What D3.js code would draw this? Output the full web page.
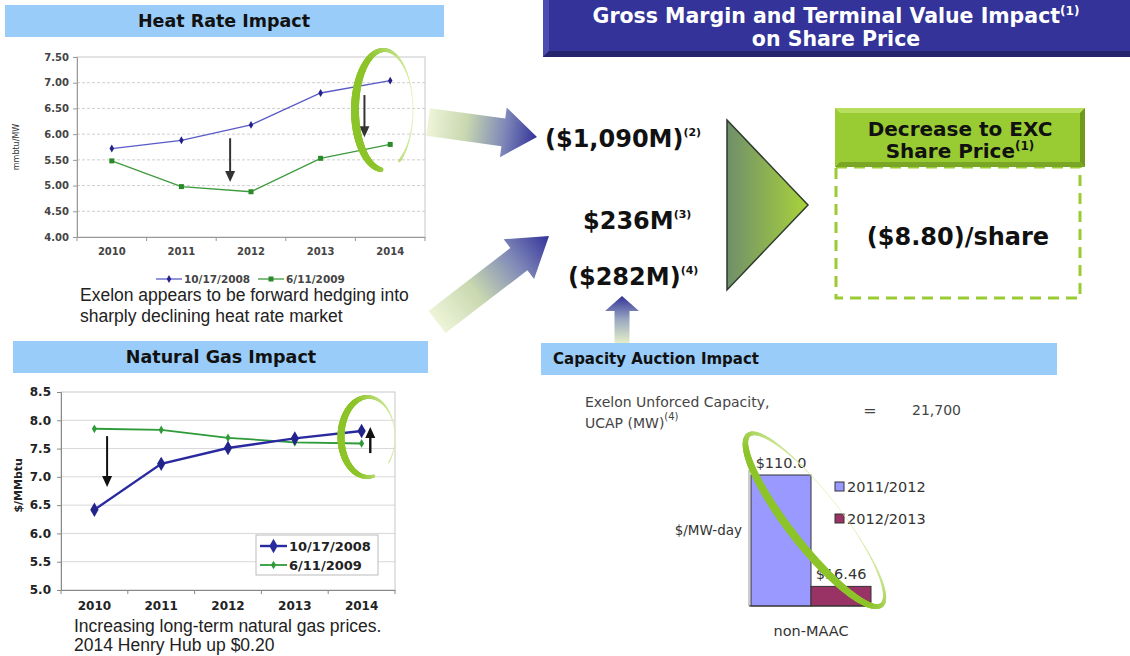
<!DOCTYPE html>
<html>
<head>
<meta charset="utf-8">
<script src="https://cdn.jsdelivr.net/npm/d3@7"></script>
<style>
body { margin: 0; background: #fff; }
text { font-family: "DejaVu Sans", Verdana, sans-serif; }
text.caption { font-family: "Liberation Sans", Arial, sans-serif; }
</style>
</head>
<body>
<svg id="chart" width="1130" height="656"></svg>
<script>
// data
const years = ["2010", "2011", "2012", "2013", "2014"];
const seriesDates = ["10/17/2008", "6/11/2009"];
const heatRate2008 = [5.72, 5.88, 6.18, 6.80, 7.04];
const heatRate2009 = [5.48, 4.98, 4.88, 5.53, 5.80];
const heatRateTicks = [4.0, 4.5, 5.0, 5.5, 6.0, 6.5, 7.0, 7.5];
const gas2008 = [6.42, 7.23, 7.51, 7.68, 7.81];
const gas2009 = [7.85, 7.83, 7.69, 7.61, 7.59];
const gasTicks = [5.0, 5.5, 6.0, 6.5, 7.0, 7.5, 8.0, 8.5];
const auctionYears = ["2011/2012", "2012/2013"];
const auctionPrices = [110.0, 16.46];
const auctionLabels = ["$110.0", "$16.46"];
const impacts = [["($1,090M)", "(2)"], ["$236M", "(3)"], ["($282M)", "(4)"]];
const sharePriceImpact = "($8.80)/share";
const ucap = "21,700";

const svg = d3.select("#chart");
const defs = svg.append("defs");

const BLUE_HDR = "#99ccf8";

// ---------- helpers ----------
function blackArrow(g, x, y1, y2, color, w) {
  const dir = y2 > y1 ? 1 : -1;
  g.append("line").attr("x1", x).attr("x2", x).attr("y1", y1).attr("y2", y2 - dir * 9)
    .attr("stroke", color).attr("stroke-width", w);
  g.append("path")
    .attr("d", `M${x - 5},${y2 - dir * 11}L${x + 5},${y2 - dir * 11}L${x},${y2}Z`)
    .attr("fill", color);
}

function brush(g, cx, cy, rx, ry, rot, t0, t1, thickAt, wMax, wMin) {
  const r = rot * Math.PI / 180;
  const pts = d3.range(t0, t1 + 1, 2).map(t => {
    const a = t * Math.PI / 180;
    const lx = rx * Math.cos(a), ly = ry * Math.sin(a);
    const k = (1 + Math.cos((t - thickAt) * Math.PI / 180)) / 2;
    return [cx + lx * Math.cos(r) - ly * Math.sin(r), cy + lx * Math.sin(r) + ly * Math.cos(r), k];
  });
  const col = d3.interpolateRgb("#dcefb0", "#8cc429");
  for (let i = 0; i < pts.length - 1; i++) {
    const k = pts[i][2];
    g.append("line")
      .attr("x1", pts[i][0]).attr("y1", pts[i][1])
      .attr("x2", pts[i + 1][0]).attr("y2", pts[i + 1][1])
      .attr("stroke", col(Math.min(1, k * 1.4)))
      .attr("stroke-width", wMin + (wMax - wMin) * k)
      .attr("stroke-linecap", "round");
  }
}

function fatArrow(id, x1, y1, x2, y2, sw, hw, hl, stops) {
  const L = Math.hypot(x2 - x1, y2 - y1);
  const ang = Math.atan2(y2 - y1, x2 - x1) * 180 / Math.PI;
  const grad = defs.append("linearGradient").attr("id", id)
    .attr("gradientUnits", "userSpaceOnUse").attr("x1", 0).attr("y1", 0).attr("x2", L).attr("y2", 0);
  stops.forEach(s => grad.append("stop").attr("offset", s[0]).attr("stop-color", s[1]));
  svg.append("path")
    .attr("transform", `translate(${x1},${y1}) rotate(${ang})`)
    .attr("d", `M0,${-sw / 2}L${L - hl},${-sw / 2}L${L - hl},${-hw / 2}L${L},0L${L - hl},${hw / 2}L${L - hl},${sw / 2}L0,${sw / 2}Z`)
    .attr("fill", `url(#${id})`);
}

function headerBar(x, y, w, h, label, tx, anchor, size) {
  svg.append("rect").attr("x", x).attr("y", y).attr("width", w).attr("height", h).attr("fill", BLUE_HDR);
  svg.append("text").attr("x", tx).attr("y", y + h / 2 + size * 0.36)
    .attr("text-anchor", anchor).attr("font-size", size).attr("font-weight", "bold")
    .attr("fill", "#111").text(label);
}

function caption(x, y, str) {
  svg.append("text").attr("class", "caption").attr("x", x).attr("y", y)
    .attr("font-size", 17.5).attr("fill", "#222").text(str);
}

// ---------- Heat Rate Impact ----------
headerBar(5, 5, 439, 32, "Heat Rate Impact", 224, "middle", 17.5);

const xHR = d3.scaleBand().domain(years).range([77, 425]);
const yHR = d3.scaleLinear().domain([4, 7.5]).range([237, 57]);
const hr = svg.append("g");

hr.selectAll(".grid").data(heatRateTicks.slice(1, -1)).join("line")
  .attr("x1", 77).attr("x2", 425).attr("y1", d => yHR(d)).attr("y2", d => yHR(d))
  .attr("stroke", "#cfcfcf").attr("stroke-dasharray", "3,2");
hr.append("rect").attr("x", 77).attr("y", yHR(7.5)).attr("width", 348).attr("height", yHR(4) - yHR(7.5))
  .attr("fill", "none").attr("stroke", "#c8c8c8");

const hrY = hr.append("g").attr("transform", "translate(77,0)")
  .call(d3.axisLeft(yHR).tickValues(heatRateTicks).tickFormat(d3.format(".2f")).tickSize(4).tickPadding(4));
hrY.selectAll("text").attr("font-size", 10).attr("font-weight", "bold").attr("fill", "#444");
hrY.selectAll("line,path").attr("stroke", "#999");

const hrX = hr.append("g").attr("transform", "translate(0,237)")
  .call(d3.axisBottom(xHR).tickSize(0).tickPadding(11));
hrX.selectAll("text").attr("font-size", 10).attr("font-weight", "bold").attr("fill", "#444");
hrX.select("path").attr("stroke", "#999");
hr.selectAll(".xt").data(d3.range(years.length + 1)).join("line")
  .attr("x1", i => xHR.range()[0] + i * xHR.step()).attr("x2", i => xHR.range()[0] + i * xHR.step())
  .attr("y1", 237).attr("y2", 241).attr("stroke", "#999");

hr.append("text").attr("transform", `translate(19,${yHR(5.75)}) rotate(-90)`)
  .attr("text-anchor", "middle").attr("font-size", 8).attr("fill", "#333").text("mmbtu/MW");

const hrLine = d3.line().x((d, i) => xHR(years[i]) + xHR.bandwidth() / 2).y(d => yHR(d));
hr.append("path").datum(heatRate2008).attr("d", hrLine).attr("fill", "none").attr("stroke", "#5a5ac8").attr("stroke-width", 1.3);
hr.append("path").datum(heatRate2009).attr("d", hrLine).attr("fill", "none").attr("stroke", "#3d9a3d").attr("stroke-width", 1.3);
hr.selectAll(".m1").data(heatRate2008).join("path")
  .attr("transform", (d, i) => `translate(${xHR(years[i]) + xHR.bandwidth() / 2},${yHR(d)})`)
  .attr("d", d3.symbol(d3.symbolDiamond, 18)).attr("fill", "#22228a");
hr.selectAll(".m2").data(heatRate2009).join("rect")
  .attr("x", (d, i) => xHR(years[i]) + xHR.bandwidth() / 2 - 2.5).attr("y", d => yHR(d) - 2.5)
  .attr("width", 5).attr("height", 5).attr("fill", "#2a8a2a");

blackArrow(hr, xHR.range()[0] + xHR.step() * 2.2, yHR(5.92), yHR(5.07), "#333", 2);
blackArrow(hr, xHR.range()[0] + xHR.step() * 4.13, yHR(6.76), yHR(5.94), "#333", 2);
brush(hr, 384, 110, 29, 60, 0, 96, 418, 175, 8, 0.6);

// legend
const hrLeg = hr.append("g");
[[156, "#5a5ac8", "diamond"], [258, "#3d9a3d", "square"]].forEach((d, i) => {
  hrLeg.append("line").attr("x1", d[0]).attr("x2", d[0] + 26).attr("y1", 279).attr("y2", 279)
    .attr("stroke", d[1]).attr("stroke-width", 1.3);
  if (d[2] === "diamond") {
    hrLeg.append("path").attr("transform", `translate(${d[0] + 13},279)`).attr("d", d3.symbol(d3.symbolDiamond, 18)).attr("fill", "#22228a");
  } else {
    hrLeg.append("rect").attr("x", d[0] + 10.5).attr("y", 276.5).attr("width", 5).attr("height", 5).attr("fill", "#2a8a2a");
  }
  hrLeg.append("text").attr("x", d[0] + 28).attr("y", 283).attr("font-size", 10.5).attr("font-weight", "bold")
    .attr("fill", "#444").text(seriesDates[i]);
});

caption(80, 301, "Exelon appears to be forward hedging into");
caption(80, 322, "sharply declining heat rate market");

// ---------- Natural Gas Impact ----------
headerBar(13, 341, 415, 32, "Natural Gas Impact", 221, "middle", 17.5);

const xNG = d3.scaleBand().domain(years).range([61, 395]);
const yNG = d3.scaleLinear().domain([5, 8.5]).range([590, 392]);
const ng = svg.append("g");

ng.selectAll(".grid").data(gasTicks.slice(1, -1)).join("line")
  .attr("x1", 61).attr("x2", 395).attr("y1", d => yNG(d)).attr("y2", d => yNG(d))
  .attr("stroke", "#d8d8d8");
ng.append("rect").attr("x", 61).attr("y", yNG(8.5)).attr("width", 334).attr("height", yNG(5) - yNG(8.5))
  .attr("fill", "none").attr("stroke", "#c8c8c8");

const ngY = ng.append("g").attr("transform", "translate(61,0)")
  .call(d3.axisLeft(yNG).tickValues(gasTicks).tickFormat(d3.format(".1f")).tickSize(4).tickPadding(6));
ngY.selectAll("text").attr("font-size", 12).attr("font-weight", "bold").attr("fill", "#222");
ngY.selectAll("line,path").attr("stroke", "#888");

const ngX = ng.append("g").attr("transform", "translate(0,590)")
  .call(d3.axisBottom(xNG).tickSize(0).tickPadding(11));
ngX.selectAll("text").attr("font-size", 12).attr("font-weight", "bold").attr("fill", "#222");
ngX.select("path").attr("stroke", "#888");
ng.selectAll(".xt").data(d3.range(years.length + 1)).join("line")
  .attr("x1", i => xNG.range()[0] + i * xNG.step()).attr("x2", i => xNG.range()[0] + i * xNG.step())
  .attr("y1", 590).attr("y2", 594).attr("stroke", "#888");

ng.append("text").attr("transform", `translate(22,${yNG(6.85)}) rotate(-90)`)
  .attr("text-anchor", "middle").attr("font-size", 11).attr("font-weight", "bold").attr("fill", "#222").text("$/MMbtu");

const ngLine = d3.line().x((d, i) => xNG(years[i]) + xNG.bandwidth() / 2).y(d => yNG(d));
ng.append("path").datum(gas2009).attr("d", ngLine).attr("fill", "none").attr("stroke", "#2f9a3a").attr("stroke-width", 1.8);
ng.append("path").datum(gas2008).attr("d", ngLine).attr("fill", "none").attr("stroke", "#2a2aa0").attr("stroke-width", 2.4);
ng.selectAll(".m2").data(gas2009).join("path")
  .attr("transform", (d, i) => `translate(${xNG(years[i]) + xNG.bandwidth() / 2},${yNG(d)})`)
  .attr("d", d3.symbol(d3.symbolDiamond, 22)).attr("fill", "#2f9a3a");
ng.selectAll(".m1").data(gas2008).join("path")
  .attr("transform", (d, i) => `translate(${xNG(years[i]) + xNG.bandwidth() / 2},${yNG(d)})`)
  .attr("d", d3.symbol(d3.symbolDiamond, 60)).attr("fill", "#23238c");

blackArrow(ng, xNG.range()[0] + xNG.step() * 0.69, yNG(7.72), yNG(6.82), "#111", 2);
blackArrow(ng, xNG.range()[0] + xNG.step() * 4.63, yNG(7.42), yNG(7.88), "#111", 2.4);
brush(ng, 368, 437, 27, 40, 0, 78, 400, 180, 7, 0.6);

// legend box
const ngLeg = ng.append("g");
ngLeg.append("rect").attr("x", 256).attr("y", 535).attr("width", 122).attr("height", 40)
  .attr("fill", "#fff").attr("stroke", "#bbb");
[["#2a2aa0", 60, 2.4], ["#2f9a3a", 22, 1.8]].forEach((d, i) => {
  const y = 546 + i * 19;
  ngLeg.append("line").attr("x1", 260).attr("x2", 287).attr("y1", y).attr("y2", y).attr("stroke", d[0]).attr("stroke-width", d[2]);
  ngLeg.append("path").attr("transform", `translate(273.5,${y})`).attr("d", d3.symbol(d3.symbolDiamond, d[1])).attr("fill", d[0]);
  ngLeg.append("text").attr("x", 289).attr("y", y + 5).attr("font-size", 13).attr("font-weight", "bold")
    .attr("fill", "#222").text(seriesDates[i]);
});

caption(74, 632, "Increasing long-term natural gas prices.");
caption(74, 651, "2014 Henry Hub up $0.20");

// ---------- fat arrows ----------
const arrowStops = [[0, "#eef4d8"], [0.35, "#c8d8b0"], [0.7, "#7f88b8"], [1, "#333399"]];
fatArrow("fa1", 428, 122, 537, 137, 28, 50, 34, arrowStops);
fatArrow("fa2", 437, 322, 549, 236, 28, 50, 38, arrowStops);
fatArrow("fa3", 622, 343, 622, 296, 15, 34, 15, [[0, "#e4efc8"], [0.5, "#9aa8c0"], [1, "#333399"]]);

// ---------- Gross margin header ----------
svg.append("rect").attr("x", 543).attr("y", 0).attr("width", 587).attr("height", 57).attr("fill", "#333399");
svg.append("path").attr("d", "M543,0L549,0L549,51L543,57Z").attr("fill", "#4d4db0");
svg.append("path").attr("d", "M543,57L549,51L1130,51L1130,57Z").attr("fill", "#24246e");
const gm = svg.append("text").attr("x", 836).attr("y", 23).attr("text-anchor", "middle")
  .attr("font-size", 20.5).attr("font-weight", "bold").attr("fill", "#fff");
gm.append("tspan").text("Gross Margin and Terminal Value Impact");
gm.append("tspan").attr("font-size", 12).attr("dy", -8).text("(1)");
svg.append("text").attr("x", 836).attr("y", 46).attr("text-anchor", "middle")
  .attr("font-size", 20.5).attr("font-weight", "bold").attr("fill", "#fff").text("on Share Price");

// impact numbers
[[545, 147], [583, 229], [568, 285]].forEach((p, i) => {
  const t = svg.append("text").attr("x", p[0]).attr("y", p[1]).attr("font-size", 24)
    .attr("font-weight", "bold").attr("fill", "#111");
  t.append("tspan").text(impacts[i][0]);
  t.append("tspan").attr("font-size", 11).attr("dy", -11).text(impacts[i][1]);
});

// triangle
const tg = defs.append("linearGradient").attr("id", "tri").attr("x1", 0).attr("x2", 1).attr("y1", 0).attr("y2", 0);
tg.append("stop").attr("offset", 0).attr("stop-color", "#6f8f6a");
tg.append("stop").attr("offset", 1).attr("stop-color", "#a9d33a");
svg.append("path").attr("d", "M727,120L808,205L727,290Z").attr("fill", "url(#tri)")
  .attr("stroke", "#2e3a2e").attr("stroke-width", 1.5);

// decrease box
svg.append("rect").attr("x", 836).attr("y", 167).attr("width", 244).attr("height", 131)
  .attr("fill", "none").attr("stroke", "#99cc33").attr("stroke-width", 3).attr("stroke-dasharray", "11,7");
svg.append("rect").attr("x", 835).attr("y", 108).attr("width", 250).attr("height", 59).attr("fill", "#99cc33");
svg.append("path").attr("d", "M835,108L1085,108L1080,113L840,113Z").attr("fill", "#b7de5c");
svg.append("path").attr("d", "M1085,108L1085,167L1080,162L1080,113Z").attr("fill", "#6f9a1e");
svg.append("path").attr("d", "M835,167L840,162L1080,162L1085,167Z").attr("fill", "#7aa626");
svg.append("text").attr("x", 960).attr("y", 136).attr("text-anchor", "middle")
  .attr("font-size", 20).attr("font-weight", "bold").attr("fill", "#111").text("Decrease to EXC");
const sp = svg.append("text").attr("x", 960).attr("y", 158).attr("text-anchor", "middle")
  .attr("font-size", 20).attr("font-weight", "bold").attr("fill", "#111");
sp.append("tspan").text("Share Price");
sp.append("tspan").attr("font-size", 12).attr("dy", -8).text("(1)");
svg.append("text").attr("x", 958).attr("y", 245).attr("text-anchor", "middle")
  .attr("font-size", 24).attr("font-weight", "bold").attr("fill", "#111").text(sharePriceImpact);

// ---------- Capacity Auction Impact ----------
headerBar(541, 343, 516, 32, "Capacity Auction Impact", 553, "start", 15);

svg.append("text").attr("x", 585).attr("y", 407).attr("font-size", 14).attr("fill", "#444").text("Exelon Unforced Capacity,");
const uc = svg.append("text").attr("x", 585).attr("y", 428).attr("font-size", 14).attr("fill", "#444");
uc.append("tspan").text("UCAP (MW)");
uc.append("tspan").attr("font-size", 10).attr("dy", -8).text("(4)");
svg.append("text").attr("x", 870).attr("y", 416).attr("text-anchor", "middle").attr("font-size", 16).attr("fill", "#444").text("=");
svg.append("text").attr("x", 912).attr("y", 415).attr("font-size", 14).attr("fill", "#444").text(ucap);

const xCap = d3.scaleBand().domain(auctionYears).range([751, 871]);
const yCap = d3.scaleLinear().domain([0, 110]).range([606, 475]);
const cap = svg.append("g");
const capColors = ["#9999ff", "#993366"];
cap.selectAll(".bar").data(auctionPrices).join("rect")
  .attr("x", (d, i) => xCap(auctionYears[i])).attr("y", d => yCap(d))
  .attr("width", xCap.bandwidth()).attr("height", d => yCap(0) - yCap(d))
  .attr("fill", (d, i) => capColors[i]).attr("stroke", "#333").attr("stroke-width", 1);
cap.append("line").attr("x1", 749).attr("x2", 749).attr("y1", 470).attr("y2", 606).attr("stroke", "#999");
cap.append("line").attr("x1", 749).attr("x2", 873).attr("y1", 606).attr("y2", 606).attr("stroke", "#333");
cap.selectAll(".lbl").data(auctionPrices).join("text")
  .attr("x", (d, i) => xCap(auctionYears[i]) + xCap.bandwidth() / 2).attr("y", d => yCap(d) - 7)
  .attr("text-anchor", "middle").attr("font-size", 14.5).attr("fill", "#333").text((d, i) => auctionLabels[i]);
cap.append("text").attr("x", 742).attr("y", 535).attr("text-anchor", "end").attr("font-size", 13.5).attr("fill", "#333").text("$/MW-day");
cap.append("text").attr("x", 811).attr("y", 636).attr("text-anchor", "middle").attr("font-size", 14.5).attr("fill", "#333").text("non-MAAC");
auctionYears.forEach((d, i) => {
  cap.append("rect").attr("x", 835).attr("y", 482 + i * 32).attr("width", 9).attr("height", 9)
    .attr("fill", capColors[i]).attr("stroke", "#333");
  cap.append("text").attr("x", 847).attr("y", 492 + i * 32).attr("font-size", 14.5).attr("fill", "#333").text(d);
});
brush(cap, 815, 520, 108, 26, 52, -178, 182, 90, 8, 0.6);
</script>
</body>
</html>
